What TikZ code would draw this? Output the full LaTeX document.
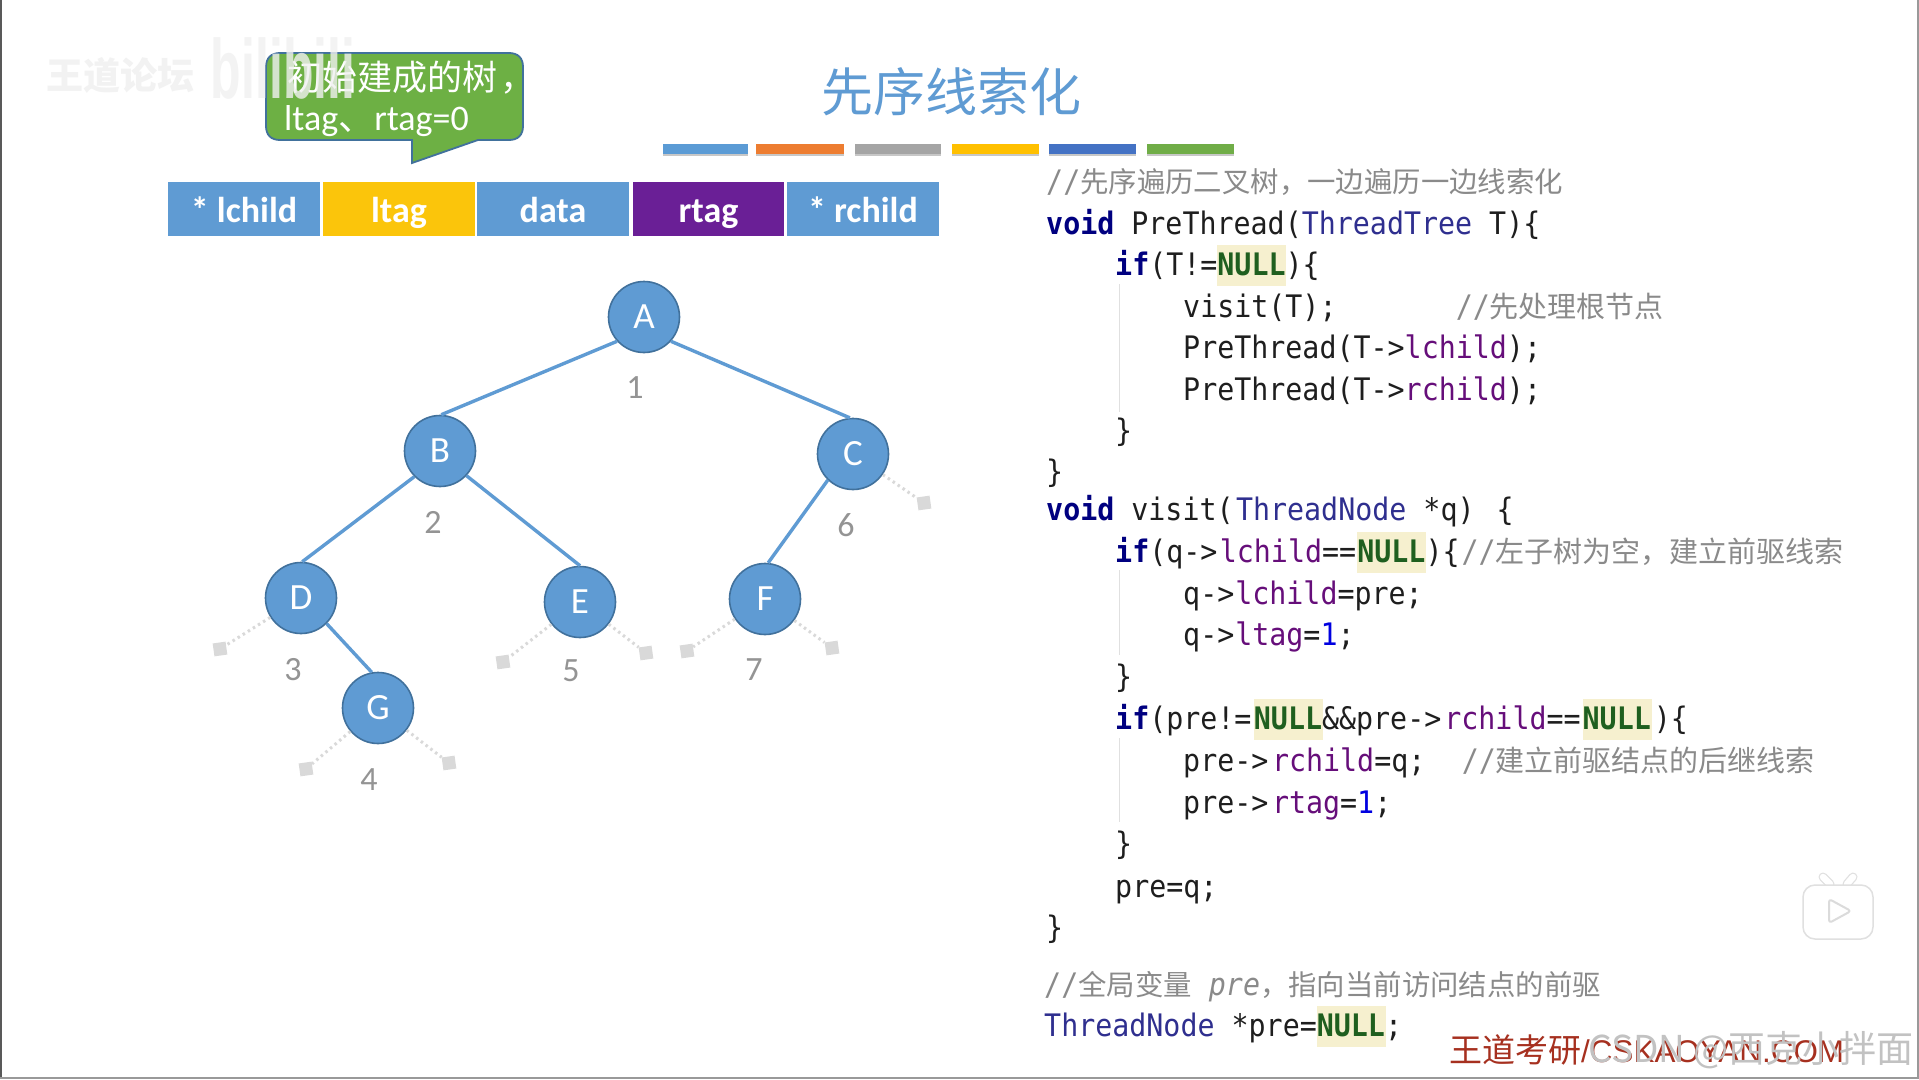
\documentclass[tikz,border=0pt]{standalone}
\usepackage{fontspec}
\newfontfamily\cjk{Noto Sans CJK SC}
\newfontfamily\code[FakeStretch=0.913]{DejaVu Sans Mono}
\newfontfamily\carl{Carlito}
\newfontfamily\lib{Liberation Sans}
\definecolor{blu}{HTML}{5F9BD3}
\definecolor{blud}{HTML}{41719C}
\definecolor{kw}{HTML}{000080}
\definecolor{typ}{HTML}{2F2F8F}
\definecolor{fld}{HTML}{660E7A}
\definecolor{nulc}{HTML}{1F5F1F}
\definecolor{hl}{HTML}{F6F0CF}
\definecolor{num}{HTML}{0000E0}
\definecolor{cmt}{HTML}{8A8A8A}
\definecolor{txt}{HTML}{1E1E1E}
\definecolor{cellyel}{HTML}{FBC50B}
\definecolor{cellpur}{HTML}{6A1F96}
\definecolor{callg}{HTML}{6DB044}
\definecolor{footr}{HTML}{A6301F}
\newcommand{\kw}[1]{{\color{kw}\bfseries #1}}
\newcommand{\typ}[1]{{\color{typ}#1}}
\newcommand{\fld}[1]{{\color{fld}#1}}
\newcommand{\nm}[1]{{\color{num}#1}}
\newcommand{\nl}{{\color{hl}\rlap{\raisebox{-11pt}{\rule{69pt}{41pt}}}}{\color{nulc}\bfseries NULL}}
\newcommand{\cm}[1]{{\color{cmt}#1}}
\newcommand{\zh}[1]{{\fontsize{28.4}{28.4}\cjk #1}}
\newcommand{\zhb}[1]{{\fontsize{29}{29}\cjk #1}}
\newcommand{\fwc}{\symbol{"FF0C}}
\tikzset{
  codeline/.style={anchor=base west,inner sep=0pt,text=txt,font=\fontsize{31}{31}\code},
  guide/.style={draw=black!12,line width=1pt},
  cell/.style={minimum height=54pt,inner sep=0pt,text=white,text height=32pt,text depth=6pt,font=\fontsize{36}{36}\carl\bfseries},
  tnode/.style={circle,minimum size=71pt,inner sep=0pt,fill=blu,draw=blud,line width=1.6pt,text=white,font=\fontsize{37}{37}\carl},
  edge/.style={draw=blu,line width=3.4pt},
  nullink/.style={draw=black!15,line width=3pt,dash pattern=on 2.5pt off 3.5pt},
  nullbox/.style={fill=black!15,minimum size=13pt,inner sep=0pt,rotate=8},
  numl/.style={text=black!42,font=\fontsize{34}{34}\carl,inner sep=0pt},
  barshade/.style={draw=black!22,line width=2pt},
}
\begin{document}
\begin{tikzpicture}[x=1pt,y=-1pt]
\useasboundingbox (0,0) rectangle (1919,1079);
\fill[white] (0,0) rectangle (1919,1079);
\draw[black!65,line width=2pt] (1,0) -- (1,1079);
\draw[black!40,line width=1.5pt] (0,1078) -- (1919,1078);
\draw[black!40,line width=1.5pt] (1918,0) -- (1918,1079);

% title and colour bars
\node[text=blu,inner sep=0pt,font=\fontsize{52}{52}\cjk] (title) at (951,92) {先序线索化};
\foreach \xa/\xb/\c in {663/748/5B9BD5,756/844/ED7D31,855/941/A5A5A5,952/1039/FFC000,1049/1136/4472C4,1147/1234/70AD47}{
  \definecolor{bc}{HTML}{\c}
  \draw[barshade] (\xa,155) -- (\xb,155);
  \fill[bc] (\xa,144) rectangle (\xb,154);
}

% header cells
\node[cell,fill=blu,minimum width=152pt] (c1) at (244,209) {* lchild};
\node[cell,fill=cellyel,minimum width=152pt] (c2) at (399,209) {ltag};
\node[cell,fill=blu,minimum width=152pt] (c3) at (553,209) {data};
\node[cell,fill=cellpur,minimum width=151pt] (c4) at (708.5,209) {rtag};
\node[cell,fill=blu,minimum width=152pt] (c5) at (863,209) {* rchild};

% callout
\draw[fill=callg,draw=blud,line width=1.8pt]
  (280,140) .. controls (271,140) and (266,135) .. (266,126) -- (266,67)
  .. controls (266,58) and (271,53) .. (280,53) -- (509,53)
  .. controls (518,53) and (523,58) .. (523,67) -- (523,126)
  .. controls (523,135) and (518,140) .. (509,140) -- (478,140) -- (412,163) -- (412,140) -- cycle;
\node[anchor=base west,inner sep=0pt,text=white,font=\fontsize{35}{35}\cjk] (cl1) at (287,90) {初始建成的树\hspace{3pt}\fwc};
\node[anchor=base west,inner sep=0pt,text=white,font=\fontsize{36}{36}\carl] (cl2) at (284,130) {ltag{\cjk 、}rtag=0};

% tree
\node[tnode] (A) at (644,317) {A};
\node[tnode] (B) at (440,451) {B};
\node[tnode] (C) at (853,454) {C};
\node[tnode] (D) at (301,598) {D};
\node[tnode] (E) at (580,602) {E};
\node[tnode] (F) at (765,599) {F};
\node[tnode] (G) at (378,708) {G};
\draw[edge] (A.222) -- (B.88);
\draw[edge] (A.-42) -- (C.95);
\draw[edge] (B.225) -- (D.88);
\draw[edge] (B.-43) -- (E.90);
\draw[edge] (C.226) -- (F.85);
\draw[edge] (D.-45) -- (G.100);

\node[nullbox] (cr) at (924,503) {};
\node[nullbox] (dl) at (220,649) {};
\node[nullbox] (el) at (503,662) {};
\node[nullbox] (er) at (646,653) {};
\node[nullbox] (fl) at (687,651) {};
\node[nullbox] (fr) at (832,648) {};
\node[nullbox] (gl) at (306,769) {};
\node[nullbox] (gr) at (449,763) {};
\draw[nullink] (C) -- (cr);
\draw[nullink] (D) -- (dl);
\draw[nullink] (E) -- (el);
\draw[nullink] (E) -- (er);
\draw[nullink] (F) -- (fl);
\draw[nullink] (F) -- (fr);
\draw[nullink] (G) -- (gl);
\draw[nullink] (G) -- (gr);

\node[numl] (n1) at (635,388) {1};
\node[numl] (n2) at (433,522) {2};
\node[numl] (n6) at (846,525) {6};
\node[numl] (n3) at (293,670) {3};
\node[numl] (n5) at (571,671) {5};
\node[numl] (n7) at (754,670) {7};
\node[numl] (n4) at (369,780) {4};

% code
\node[codeline] (l1) at (1046,192) {\cm{//\zh{先序遍历二叉树\fwc 一边遍历一边线索化}}};
\node[codeline] (l2) at (1046,234) {\kw{void} PreThread(\typ{ThreadTree} T)\{};
\node[codeline] (l3) at (1115,275) {\kw{if}(T!=\nl)\{};
\node[codeline] (l4) at (1183,317) {visit(T);~~~~~~~\cm{//\zhb{先处理根节点}}};
\node[codeline] (l5) at (1183,358) {PreThread(T->\fld{lchild});};
\node[codeline] (l6) at (1183,400) {PreThread(T->\fld{rchild});};
\node[codeline] (l7) at (1115,441) {\}};
\node[codeline] (l8) at (1046,482) {\}};
\node[codeline] (l9) at (1046,520) {\kw{void} visit(\hspace{2.4pt}\typ{ThreadNode} *q)\hspace{5pt} \{};
\node[codeline] (l10) at (1115,562) {\kw{if}(q->\hspace{2.4pt}\fld{lchild}==\hspace{1.2pt}\nl)\{\hspace{2pt}\cm{//\zhb{左子树为空\fwc 建立前驱线索}}};
\node[codeline] (l11) at (1183,604) {q->\hspace{1pt}\fld{lchild}=pre;};
\node[codeline] (l12) at (1183,645) {q->\hspace{1pt}\fld{ltag}=\nm{1};};
\node[codeline] (l13) at (1115,687) {\}};
\node[codeline] (l14) at (1115,729) {\kw{if}(pre!=\hspace{2.4pt}\nl\&\&pre->\hspace{3pt}\fld{rchild}==\hspace{2pt}\nl\hspace{3pt})\{};
\node[codeline] (l15) at (1183,771) {pre->\hspace{3.6pt}\fld{rchild}=q;~~\hspace{2.4pt}\cm{//\zhb{建立前驱结点的后继线索}}};
\node[codeline] (l16) at (1183,813) {pre->\hspace{3.6pt}\fld{rtag}=\nm{1};};
\node[codeline] (l17) at (1115,854) {\}};
\node[codeline] (l18) at (1115,897) {pre=q;};
\node[codeline] (l19) at (1046,938) {\}};
\node[codeline] (l20) at (1044,995) {\cm{//\zh{全局变量} {\itshape pre}\zh{\fwc 指向当前访问结点的前驱}}};
\node[codeline] (l21) at (1044,1036) {\typ{ThreadNode} *pre=\nl;};

\draw[guide] (1119,284) -- (1119,412);
\draw[guide] (1119,570) -- (1119,655);
\draw[guide] (1119,738) -- (1119,822);

% footer and overlays
\node[anchor=base west,inner sep=0pt,text=footr,font=\fontsize{31.4}{31.4}\lib] (foot) at (1449,1062) {{\fontsize{33}{33}\cjk 王道考研}/CSKAOYAN.COM};
\node[anchor=base east,inner sep=0pt,text=black!24,font=\fontsize{37}{37}\cjk] (wm) at (1914,1062) {CSDN @西克小拌面};
\node[anchor=center,inner sep=0pt,text=black!5,font=\fontsize{37}{37}\cjk\bfseries] (wd) at (120,75) {王道论坛};
\node[anchor=base,inner sep=0pt,text=black!6,opacity=.8,xscale=.595,font=\fontsize{84}{84}\lib\bfseries] (bl) at (283,98) {bilibili};

% play badge
\draw[black!12,line width=9pt,line cap=round] (1830,884) -- (1823,877) (1847,884) -- (1853,877);
\draw[white,line width=6.5pt,line cap=round] (1830,884) -- (1823,877) (1847,884) -- (1853,877);
\draw[black!12,line width=1.5pt,fill=white,rounded corners=12pt] (1803,885) rectangle (1873,939);
\draw[black!14,fill=white,line width=2pt,line join=round,rounded corners=3pt] (1829,899) -- (1851,911) -- (1829,923) -- cycle;
\end{tikzpicture}
\end{document}
